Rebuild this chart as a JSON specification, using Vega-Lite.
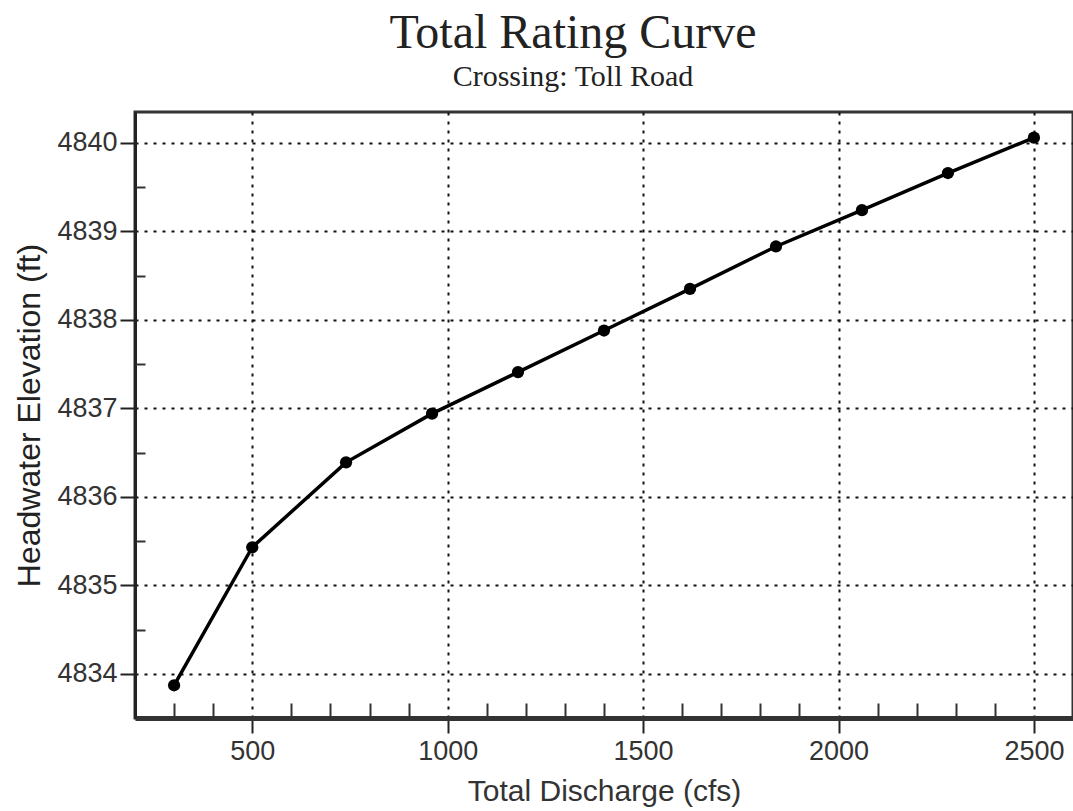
{
  "$schema": "https://vega.github.io/schema/vega-lite/v6.json",
  "autosize": "none",
  "padding": {"left": 135, "top": 112, "right": 0, "bottom": 93},
  "width": 938,
  "height": 606,
  "background": "white",
  "config": {
    "view": {"stroke": "#333", "strokeWidth": 3},
    "font": "Liberation Sans"
  },
  "title": {
    "text": "Total Rating Curve",
    "subtitle": "Crossing: Toll Road",
    "font": "Liberation Serif",
    "fontSize": 48,
    "fontWeight": "normal",
    "color": "#222",
    "subtitleFont": "Liberation Serif",
    "subtitleFontSize": 30,
    "subtitleColor": "#222",
    "subtitlePadding": 4,
    "anchor": "middle",
    "frame": "group",
    "dx": -31,
    "offset": 20
  },
  "data": {
    "values": [
      {"discharge": 300, "elevation": 4833.87},
      {"discharge": 500, "elevation": 4835.43},
      {"discharge": 740, "elevation": 4836.39},
      {"discharge": 960, "elevation": 4836.94},
      {"discharge": 1180, "elevation": 4837.41},
      {"discharge": 1400, "elevation": 4837.88},
      {"discharge": 1620, "elevation": 4838.35},
      {"discharge": 1840, "elevation": 4838.83},
      {"discharge": 2060, "elevation": 4839.24},
      {"discharge": 2280, "elevation": 4839.66},
      {"discharge": 2500, "elevation": 4840.06}
    ]
  },
  "layer": [
    {
      "mark": {"type": "line", "color": "black", "strokeWidth": 3.5, "point": {"filled": true, "color": "black", "size": 150}},
      "encoding": {
        "x": {
          "field": "discharge", "type": "quantitative",
          "scale": {"domain": [200, 2600], "nice": false, "zero": false},
          "axis": {
            "values": [500, 1000, 1500, 2000, 2500],
            "format": "d",
            "title": "Total Discharge (cfs)",
            "titleFont": "Liberation Sans", "titleFontSize": 30, "titleFontWeight": "normal", "titleColor": "#333",
            "titlePadding": 12,
            "labelFont": "Liberation Sans", "labelFontSize": 27, "labelColor": "#333", "labelPadding": 5,
            "tickSize": 15, "tickColor": "#222", "tickWidth": 2,
            "domainColor": "#333", "domainWidth": 5,
            "grid": true, "gridColor": "#111", "gridWidth": 2, "gridDash": [3, 6],
            "zindex": 0
          }
        },
        "y": {
          "field": "elevation", "type": "quantitative",
          "scale": {"domain": [4833.5, 4840.35], "nice": false, "zero": false},
          "axis": {
            "values": [4834, 4835, 4836, 4837, 4838, 4839, 4840],
            "format": "d",
            "title": "Headwater Elevation (ft)",
            "titleFont": "Liberation Sans", "titleFontSize": 32, "titleFontWeight": "normal", "titleColor": "#222",
            "titlePadding": 10,
            "labelFont": "Liberation Sans", "labelFontSize": 27, "labelColor": "#333", "labelPadding": 3,
            "tickSize": 15, "tickColor": "#222", "tickWidth": 2,
            "domainColor": "#222", "domainWidth": 3,
            "grid": true, "gridColor": "#111", "gridWidth": 2, "gridDash": [3, 6],
            "zindex": 0
          }
        }
      }
    },
    {
      "mark": {"type": "point", "opacity": 0},
      "encoding": {
        "x": {
          "field": "discharge", "type": "quantitative",
          "axis": {
            "orient": "bottom",
            "values": [200, 300, 400, 600, 700, 800, 900, 1100, 1200, 1300, 1400, 1600, 1700, 1800, 1900, 2100, 2200, 2300, 2400, 2600],
            "labels": false, "title": null, "domain": false, "grid": false,
            "tickSize": -15, "tickColor": "#333", "tickWidth": 2
          }
        },
        "y": {
          "field": "elevation", "type": "quantitative",
          "axis": {
            "orient": "left",
            "values": [4833.5, 4834.5, 4835.5, 4836.5, 4837.5, 4838.5, 4839.5],
            "labels": false, "title": null, "domain": false, "grid": false,
            "tickSize": -10, "tickColor": "#333", "tickWidth": 2
          }
        }
      }
    }
  ],
  "resolve": {"axis": {"x": "independent", "y": "independent"}}
}
